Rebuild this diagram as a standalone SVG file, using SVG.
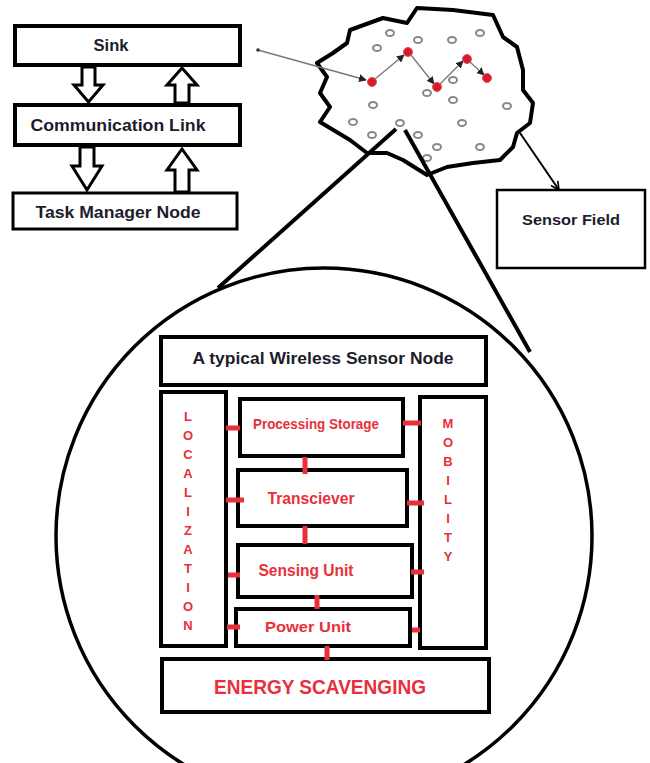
<svg xmlns="http://www.w3.org/2000/svg" width="650" height="763" viewBox="0 0 650 763">
<style>
.box{fill:#fff;stroke:#000;stroke-width:4}
.thin{fill:#fff;stroke:#000;stroke-width:3}
.dk{font-family:"Liberation Sans",Arial,sans-serif;font-weight:bold;fill:#1c1c2c;text-anchor:middle}
.rd{font-family:"Liberation Sans",Arial,sans-serif;font-weight:bold;fill:#e8303a;text-anchor:middle}
.ha{fill:#fff;stroke:#000;stroke-width:3;stroke-linejoin:miter}
.gn{fill:none;stroke:#888;stroke-width:2}
.rn{fill:#d81b2a;stroke:#e05060;stroke-width:1}
.rb{stroke:#e8303a;stroke-width:5}
.big{fill:none;stroke:#000;stroke-width:4}
</style>
<defs>
<marker id="ah" viewBox="0 0 10 10" refX="9" refY="5" markerWidth="6" markerHeight="6" orient="auto"><path d="M0,0 L10,5 L0,10 z" fill="#222"/></marker>
<marker id="vh" viewBox="0 0 12 12" refX="11" refY="6" markerWidth="10" markerHeight="10" markerUnits="userSpaceOnUse" orient="auto"><path d="M1,1 L11,6 L1,11" fill="none" stroke="#000" stroke-width="2"/></marker>
</defs>
<rect width="650" height="763" fill="#fff"/>

<g id="sink"><rect class="box" x="15" y="26" width="225" height="39"/><text class="dk" x="111" y="51" font-size="16" textLength="35" lengthAdjust="spacingAndGlyphs">Sink</text></g>
<g id="comm"><rect class="box" x="15" y="105" width="225" height="40"/><text class="dk" x="118" y="131" font-size="16" textLength="175" lengthAdjust="spacingAndGlyphs">Communication  Link</text></g>
<g id="task"><rect class="thin" x="13" y="193" width="224" height="36"/><text class="dk" x="118" y="218" font-size="16" textLength="165" lengthAdjust="spacingAndGlyphs">Task Manager Node</text></g>

<g id="hollow-arrows">
<path class="ha" d="M82,67 H95 V85 H103 L88.5,102 L74,85 H82 Z"/>
<path class="ha" d="M175,103 H189 V85 H197 L182,68 L167,85 H175 Z"/>
<path class="ha" d="M80,147 H94 V166 H102 L87,190 L72,166 H80 Z"/>
<path class="ha" d="M175,192 H189 V170 H197 L182,149 L167,170 H175 Z"/>
</g>

<g id="sensor-field-cloud">
<path d="M350,30 L383,18 L407,23 L417,8 L453,10 L493,15 L503,37 L517,47 L523,70 L523,90 L533,103 L530,123 L517,133 L513,147 L500,160 L473,163 L447,167 L427,175 L403,160 L387,153 L367,153 L350,140 L320,122 L330,107 L320,93 L327,77 L317,63 L333,53 L347,43 Z" fill="#fff" stroke="#000" stroke-width="4" stroke-linejoin="round"/>
<g>
<ellipse class="gn" cx="390" cy="33" rx="4" ry="3"/><ellipse class="gn" cx="418" cy="40" rx="4" ry="3"/><ellipse class="gn" cx="452" cy="40" rx="4" ry="3"/><ellipse class="gn" cx="480" cy="33" rx="4" ry="3"/><ellipse class="gn" cx="377" cy="48" rx="4" ry="3"/><ellipse class="gn" cx="453" cy="80" rx="4" ry="3"/><ellipse class="gn" cx="427" cy="93" rx="4" ry="3"/><ellipse class="gn" cx="453" cy="100" rx="4" ry="3"/><ellipse class="gn" cx="373" cy="105" rx="4" ry="3"/><ellipse class="gn" cx="507" cy="106" rx="4" ry="3"/><ellipse class="gn" cx="353" cy="122" rx="4" ry="3"/><ellipse class="gn" cx="400" cy="123" rx="4" ry="3"/><ellipse class="gn" cx="462" cy="123" rx="4" ry="3"/><ellipse class="gn" cx="372" cy="135" rx="4" ry="3"/><ellipse class="gn" cx="418" cy="135" rx="4" ry="3"/><ellipse class="gn" cx="437" cy="147" rx="4" ry="3"/><ellipse class="gn" cx="480" cy="147" rx="4" ry="3"/><ellipse class="gn" cx="427" cy="158" rx="4" ry="3"/>
</g>
<g fill="none" stroke="#777" stroke-width="1.3">
<line x1="258" y1="50" x2="366" y2="80" marker-end="url(#ah)"/>
<line x1="375" y1="79" x2="404" y2="55" marker-end="url(#ah)"/>
<line x1="411" y1="55" x2="434" y2="84" marker-end="url(#ah)"/>
<line x1="440" y1="84" x2="463" y2="61" marker-end="url(#ah)"/>
<line x1="470" y1="62" x2="484" y2="75" marker-end="url(#ah)"/>
</g>
<circle cx="258" cy="50" r="1.8" fill="#333"/>
<circle class="rn" cx="372" cy="82" r="4.5"/><circle class="rn" cx="408" cy="52" r="4.5"/><circle class="rn" cx="437" cy="87" r="4.5"/><circle class="rn" cx="467" cy="59" r="4.5"/><circle class="rn" cx="487" cy="78" r="4.5"/>
</g>

<g id="zoomlines">
<line class="big" x1="396" y1="129" x2="218" y2="288"/>
<line class="big" x1="405" y1="130" x2="530" y2="352"/>
</g>

<g id="sensor-field-arrow"><line x1="520" y1="133" x2="559" y2="190" stroke="#000" stroke-width="2" marker-end="url(#vh)"/></g>
<g id="sensor-field"><rect x="497" y="190" width="148" height="78" fill="#fff" stroke="#000" stroke-width="2.5"/><text class="dk" x="571" y="225" font-size="15.5" textLength="98" lengthAdjust="spacingAndGlyphs">Sensor Field</text></g>

<g id="node-circle"><circle cx="324" cy="536" r="268" fill="none" stroke="#000" stroke-width="3.5"/></g>

<g id="title"><rect class="box" x="161" y="337" width="325" height="48" stroke-width="5"/><text class="dk" x="323" y="364" font-size="16.5" textLength="261" lengthAdjust="spacingAndGlyphs">A typical Wireless Sensor Node</text></g>
<g id="localization"><rect class="box" x="161" y="392" width="65" height="254" stroke-width="5"/>
<text class="rd" font-size="13" x="188" y="421">L</text><text class="rd" font-size="13" x="188" y="440">O</text><text class="rd" font-size="13" x="188" y="459">C</text><text class="rd" font-size="13" x="188" y="478">A</text><text class="rd" font-size="13" x="188" y="497">L</text><text class="rd" font-size="13" x="188" y="516">I</text><text class="rd" font-size="13" x="188" y="535">Z</text><text class="rd" font-size="13" x="188" y="554">A</text><text class="rd" font-size="13" x="188" y="573">T</text><text class="rd" font-size="13" x="188" y="592">I</text><text class="rd" font-size="13" x="188" y="611">O</text><text class="rd" font-size="13" x="188" y="630">N</text>
</g>
<g id="mobility"><rect class="box" x="420" y="397" width="66" height="251" stroke-width="5"/>
<text class="rd" font-size="13" x="448" y="428">M</text><text class="rd" font-size="13" x="448" y="447">O</text><text class="rd" font-size="13" x="448" y="466">B</text><text class="rd" font-size="13" x="448" y="485">I</text><text class="rd" font-size="13" x="448" y="504">L</text><text class="rd" font-size="13" x="448" y="523">I</text><text class="rd" font-size="13" x="448" y="542">T</text><text class="rd" font-size="13" x="448" y="561">Y</text>
</g>
<g id="processing"><rect class="box" x="240" y="399" width="163" height="57" stroke-width="5"/><text class="rd" x="316" y="429" font-size="14" textLength="126" lengthAdjust="spacingAndGlyphs">Processing Storage</text></g>
<g id="transciever"><rect class="box" x="238" y="470" width="169" height="56" stroke-width="5"/><text class="rd" x="311" y="504" font-size="16" textLength="87" lengthAdjust="spacingAndGlyphs">Transciever</text></g>
<g id="sensing"><rect class="box" x="238" y="545" width="174" height="52" stroke-width="5"/><text class="rd" x="306" y="576" font-size="16" textLength="95" lengthAdjust="spacingAndGlyphs">Sensing Unit</text></g>
<g id="power"><rect class="box" x="236" y="609" width="174" height="37" stroke-width="5"/><text class="rd" x="308" y="632" font-size="15.5" textLength="86" lengthAdjust="spacingAndGlyphs">Power Unit</text></g>
<g id="energy"><rect class="box" x="162" y="659" width="327" height="53" stroke-width="5"/><text class="rd" x="320" y="694" font-size="19.5" textLength="212" lengthAdjust="spacingAndGlyphs">ENERGY SCAVENGING</text></g>

<g id="connectors">
<line class="rb" x1="226" y1="428" x2="240" y2="428"/>
<line class="rb" x1="226" y1="500" x2="244" y2="500"/>
<line class="rb" x1="228" y1="575" x2="240" y2="575"/>
<line class="rb" x1="227" y1="627" x2="240" y2="627"/>
<line class="rb" x1="403" y1="423" x2="421" y2="423"/>
<line class="rb" x1="407" y1="503" x2="424" y2="503"/>
<line class="rb" x1="411" y1="572" x2="424" y2="572"/>
<line class="rb" x1="412" y1="630" x2="420" y2="630"/>
<line class="rb" x1="305" y1="457" x2="305" y2="474"/>
<line class="rb" x1="305" y1="526" x2="305" y2="544"/>
<line class="rb" x1="317" y1="595" x2="317" y2="609"/>
<line class="rb" x1="327" y1="646" x2="327" y2="660"/>
</g>
</svg>
